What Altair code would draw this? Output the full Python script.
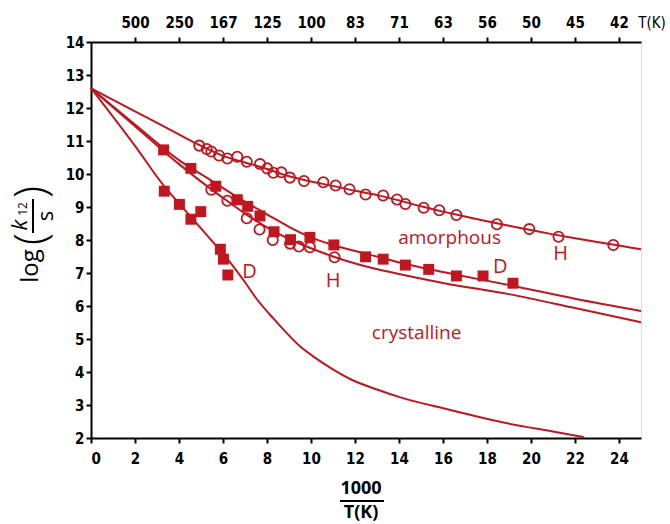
import altair as alt
import pandas as pd

RED = "#C0161F"
TICKFONT = "Liberation Sans Narrow, DejaVu Sans Condensed, Open Sans, sans-serif"
TXTFONT = "Open Sans, Noto Sans, sans-serif"

# ---------------- data ----------------
# amorphous, H (open circles, upper curve)
amH_x = [4.92, 5.26, 5.47, 5.82, 6.20, 6.65, 7.08, 7.68, 8.01, 8.29, 8.65, 9.04, 9.68, 10.56,
         11.12, 11.75, 12.48, 13.28, 13.91, 14.29, 15.12, 15.83, 16.61, 18.45, 19.92, 21.25, 23.74]
amH_y = [10.86, 10.76, 10.68, 10.56, 10.47, 10.52, 10.37, 10.30, 10.17, 10.04, 10.05, 9.89, 9.79, 9.75,
         9.65, 9.54, 9.38, 9.35, 9.23, 9.09, 8.98, 8.90, 8.76, 8.48, 8.33, 8.10, 7.85]

# H (open circles, lower-middle curve)
H2_x = [5.47, 6.20, 7.08, 7.66, 8.26, 9.05, 9.45, 9.95, 11.07]
H2_y = [9.52, 9.19, 8.66, 8.32, 8.00, 7.89, 7.80, 7.78, 7.48]

# D (filled squares, upper-middle curve)
D1_x = [3.30, 4.54, 5.67, 6.65, 7.12, 7.68, 8.32, 9.07, 9.95, 11.04, 12.48, 13.28, 14.29, 15.35,
        16.61, 17.82, 19.18]
D1_y = [10.73, 10.17, 9.63, 9.22, 9.02, 8.73, 8.25, 8.01, 8.08, 7.85, 7.49, 7.42, 7.24, 7.11,
        6.91, 6.91, 6.69]

# D (filled squares, steep crystalline curve)
D2_x = [3.33, 4.02, 4.54, 4.99, 5.88, 6.02, 6.22]
D2_y = [9.48, 9.08, 8.63, 8.86, 7.72, 7.42, 6.94]

# fitted curves
amLine_x = [0, 2, 4.08, 4.92, 6, 7, 8, 9, 10, 11, 12, 13, 14, 15, 16, 17, 18, 19, 20, 21, 22, 23, 24, 25]
amLine_y = [12.6, 11.9, 11.17, 10.88, 10.55, 10.35, 10.15, 9.93, 9.77, 9.64, 9.49, 9.36, 9.2, 9.02,
            8.86, 8.71, 8.57, 8.43, 8.3, 8.17, 8.05, 7.94, 7.83, 7.72]

D1Line_x = [0, 2, 4, 5.6, 6.65, 8, 9, 10, 11, 12.7, 14.3, 16.6, 19.1, 22, 25]
D1Line_y = [12.6, 11.5, 10.42, 9.75, 9.3, 8.78, 8.4, 8.08, 7.85, 7.55, 7.27, 6.95, 6.62, 6.22, 5.85]

H2Line_x = [0, 2, 4, 5.5, 6.2, 7, 8, 9, 10, 11, 12.25, 14, 16, 19, 22, 25]
H2Line_y = [12.6, 11.45, 10.3, 9.52, 9.18, 8.8, 8.38, 8.03, 7.75, 7.5, 7.24, 6.97, 6.7, 6.36, 5.94, 5.51]

crLine_x = [0, 2, 3.36, 4.08, 5.0, 5.9, 6.35, 7.0, 7.49, 8.32, 8.77, 9.5, 10.13, 11, 11.8, 13, 14.07,
            16.33, 18.6, 20.87, 22.4]
crLine_y = [12.6, 10.85, 9.6, 9.05, 8.35, 7.66, 7.3, 6.72, 6.25, 5.6, 5.27, 4.78, 4.46, 4.08, 3.78,
            3.47, 3.23, 2.85, 2.49, 2.21, 2.03]

# top axis (temperature) labels at 1000/T = 2, 4, ..., 24
top_pos = [2, 4, 6, 8, 10, 12, 14, 16, 18, 20, 22, 24]
top_lab = ["500", "250", "167", "125", "100", "83", "71", "63", "56", "50", "45", "42"]

# annotations inside the plot
ann_text = ["D", "H", "amorphous", "D", "H", "crystalline"]
ann_x = [7.2, 11.0, 16.3, 18.6, 21.35, 14.8]
ann_y = [7.02, 6.76, 8.06, 7.18, 7.58, 5.18]
ann_size = [20, 20, 19, 20, 20, 19]

# ---------------- frames ----------------
def line_df(xs, ys, name):
    return pd.DataFrame({"x": xs, "y": ys, "s": name, "o": list(range(len(xs)))})

lines = pd.concat([
    line_df(amLine_x, amLine_y, "am"),
    line_df(D1Line_x, D1Line_y, "d1"),
    line_df(H2Line_x, H2Line_y, "h2"),
    line_df(crLine_x, crLine_y, "cr"),
])
circles = pd.concat([pd.DataFrame({"x": amH_x, "y": amH_y}), pd.DataFrame({"x": H2_x, "y": H2_y})])
squares = pd.concat([pd.DataFrame({"x": D1_x, "y": D1_y}), pd.DataFrame({"x": D2_x, "y": D2_y})])
ann = pd.DataFrame({"t": ann_text, "x": ann_x, "y": ann_y, "size": ann_size})
topdf = pd.DataFrame({"x": top_pos})

xs = alt.Scale(domain=[0, 25], nice=False, zero=False)
ys = alt.Scale(domain=[2, 14], nice=False, zero=False)

common_axis = dict(domainColor="black", domainWidth=2, tickColor="black", tickWidth=2, tickSize=5,
                   labelFont=TICKFONT, labelFontSize=15, labelFontWeight="bold", labelColor="black",
                   grid=False, title=None)

x_bottom = alt.Axis(values=list(range(0, 25, 2)), labelPadding=8, **common_axis)
x_top = alt.Axis(orient="top", values=top_pos, labelPadding=7,
                 labelExpr="[" + ",".join("'%s'" % s for s in top_lab) + "][datum.value/2-1]",
                 **common_axis)
y_axis = alt.Axis(values=list(range(2, 15)), labelPadding=2, **common_axis)

Y = alt.Y("y:Q", scale=ys, axis=y_axis)

line_layer = alt.Chart(lines).mark_line(interpolate="monotone", color=RED, strokeWidth=2).encode(
    x=alt.X("x:Q", scale=xs, axis=x_bottom), y=Y, detail="s:N", order="o:Q")

top_layer = alt.Chart(topdf).mark_point(opacity=0).encode(
    x=alt.X("x:Q", scale=xs, axis=x_top), y=alt.value(0))

circ_layer = alt.Chart(circles).mark_point(shape="circle", filled=False, color=RED, strokeWidth=1.8,
                                           size=105, opacity=1).encode(
    x=alt.X("x:Q", scale=xs, axis=None), y=Y)

sq_layer = alt.Chart(squares).mark_square(color=RED, size=120, opacity=1).encode(
    x=alt.X("x:Q", scale=xs, axis=None), y=Y)

ann_layer = alt.Chart(ann).mark_text(color=RED, font=TXTFONT, align="center", baseline="middle").encode(
    x=alt.X("x:Q", scale=xs, axis=None), y=Y, text="t:N",
    size=alt.Size("size:Q", scale=None, legend=None))

# axis titles (outside the plot area, pixel offsets from plot origin)
def txt(s, x, y, size, angle=0, weight="normal", style="normal", color="black", font=TXTFONT):
    kw = dict(text=s, fontSize=size, fontWeight=weight, fontStyle=style, color=color, font=font,
              align="center", baseline="middle")
    if angle:
        kw["angle"] = angle
    return alt.Chart(pd.DataFrame({"a": [0]})).mark_text(**kw).encode(x=alt.value(x), y=alt.value(y))

def rule(x1, x2, y1, y2):
    return alt.Chart(pd.DataFrame({"a": [0]})).mark_rule(color="black", strokeWidth=2).encode(
        x=alt.value(x1), x2=alt.value(x2), y=alt.value(y1), y2=alt.value(y2))

titles = [
    txt("T(K)", 561, -19, 15, font=TICKFONT),
    txt("1000", 270, 447, 18, weight="bold"),
    rule(249, 293, 459, 459),
    txt("T(K)", 270, 471, 18, weight="bold"),
    txt("log", -60, 224, 24, angle=270),
    txt("k", -71, 183, 22, angle=270, style="italic"),
    txt("12", -68, 167, 12, angle=270),
    rule(-58, -58, 157, 191),
    txt("s", -45, 174, 22, angle=270),
    txt("(", -58, 197, 44, angle=270, weight="lighter"),
    txt(")", -58, 150, 44, angle=270, weight="lighter"),
]

chart = alt.layer(line_layer, top_layer, circ_layer, sq_layer, ann_layer, *titles).resolve_axis(
    x="independent").properties(
    width=550, height=396,
    autosize=alt.AutoSizeParams(type="none"),
    padding={"left": 91, "top": 42, "right": 29, "bottom": 86},
).configure_view(stroke="black", strokeWidth=2).configure(background="white")

chart.save("out.html", embed_options={"renderer": "svg", "actions": False})
